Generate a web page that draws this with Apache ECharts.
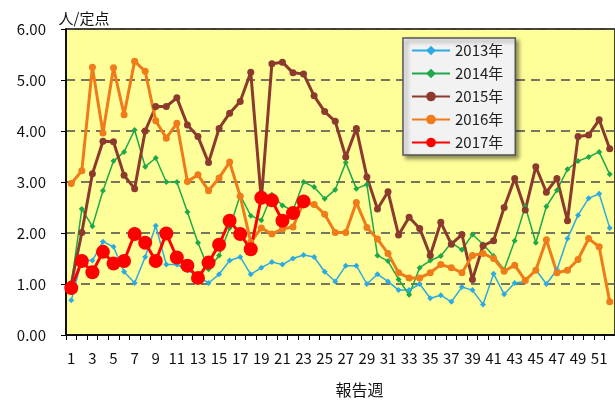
<!DOCTYPE html>
<html>
<head>
<meta charset="utf-8">
<script src="https://cdn.jsdelivr.net/npm/echarts@6/dist/echarts.min.js"></script>
<style>
  html, body { margin: 0; padding: 0; background: #fff; }
  #chart { width: 615px; height: 405px; }
</style>
</head>
<body>
<div id="chart"></div>
<script>
// ── Data ──────────────────────────────────────────────────────────────────
const WEEKS = ['1','2','3','4','5','6','7','8','9','10','11','12','13','14','15','16','17','18','19','20',
  '21','22','23','24','25','26','27','28','29','30','31','32','33','34','35','36','37','38','39','40',
  '41','42','43','44','45','46','47','48','49','50','51','52']

const Y2013 = [0.68, 1.47, 1.46, 1.83, 1.73, 1.24, 1.02, 1.53, 2.14, 1.38, 1.38, 1.27, 1.15, 1.02, 1.19, 1.46, 1.53, 1.19, 1.32, 1.43,
  1.38, 1.50, 1.57, 1.53, 1.24, 1.05, 1.36, 1.36, 1.00, 1.19, 1.05, 0.88, 0.88, 1.00, 0.72, 0.78, 0.65, 0.94, 0.88, 0.60,
  1.20, 0.80, 1.02, 1.05, 1.28, 1.00, 1.28, 1.89, 2.35, 2.68, 2.77, 2.10]
const Y2014 = [1.00, 2.47, 2.13, 2.83, 3.41, 3.59, 4.02, 3.30, 3.47, 3.00, 3.00, 2.41, 1.81, 1.29, 1.56, 2.10, 2.74, 2.34, 2.25, 2.75,
  2.54, 2.44, 3.00, 2.90, 2.67, 2.85, 3.38, 2.87, 2.95, 1.56, 1.45, 1.09, 0.79, 1.32, 1.46, 1.55, 1.81, 1.67, 1.97, 1.78,
  1.55, 1.28, 1.85, 2.52, 1.81, 2.52, 2.84, 3.25, 3.41, 3.49, 3.59, 3.15]
const Y2015 = [1.00, 2.01, 3.16, 3.80, 3.79, 3.13, 2.87, 4.00, 4.48, 4.48, 4.65, 4.12, 3.89, 3.38, 4.05, 4.35, 4.58, 5.15, 2.65, 5.32,
  5.35, 5.14, 5.12, 4.69, 4.38, 4.19, 3.49, 4.05, 3.10, 2.47, 2.81, 1.96, 2.31, 2.09, 1.56, 2.21, 1.78, 1.97, 1.09, 1.75,
  1.85, 2.50, 3.07, 2.45, 3.30, 2.80, 3.07, 2.24, 3.89, 3.92, 4.22, 3.65]
const Y2016 = [2.97, 3.22, 5.25, 3.96, 5.24, 4.32, 5.37, 5.17, 4.20, 3.86, 4.15, 3.01, 3.14, 2.83, 3.08, 3.39, 2.72, 1.82, 2.10, 1.98,
  2.08, 2.12, 2.60, 2.56, 2.37, 2.01, 2.01, 2.60, 2.11, 1.88, 1.60, 1.22, 1.12, 1.12, 1.22, 1.38, 1.32, 1.22, 1.56, 1.60,
  1.50, 1.25, 1.37, 1.07, 1.27, 1.87, 1.22, 1.27, 1.48, 1.89, 1.73, 0.65]
const Y2017 = [0.92, 1.45, 1.23, 1.63, 1.40, 1.45, 1.98, 1.81, 1.45, 1.99, 1.52, 1.36, 1.12, 1.42, 1.77, 2.24, 1.98, 1.68, 2.69, 2.64,
  2.24, 2.39, 2.62]

const FONT = '"Noto Sans CJK JP", "Noto Sans", sans-serif'

// ── Series styling ────────────────────────────────────────────────────────
function lineSeries(name, data, color, width, symbol, size) {
  return {
    name,
    type: 'line',
    data,
    symbol,
    symbolSize: size,
    showAllSymbol: true,
    lineStyle: { color, width },
    itemStyle: { color },
    emphasis: { disabled: true },
    animation: false
  }
}

const chart = echarts.init(document.getElementById('chart'))

chart.setOption({
  textStyle: { fontFamily: FONT },
  grid: {
    left: 66,
    top: 29,
    width: 558,
    height: 306,
    show: true,
    backgroundColor: '#FFFF99',
    borderColor: '#000',
    borderWidth: 1.5
  },
  legend: {
    orient: 'vertical',
    left: 403,
    top: 38,
    padding: [5, 12, 5, 8],
    itemGap: 8,
    itemWidth: 38,
    itemHeight: 12,
    backgroundColor: '#F2F2F2',
    borderColor: '#555',
    borderWidth: 1.5,
    shadowColor: 'rgba(0,0,0,0.45)',
    shadowBlur: 4,
    shadowOffsetX: 3,
    shadowOffsetY: 3,
    textStyle: { fontFamily: FONT, fontSize: 15, color: '#222' },
    data: ['2013年', '2014年', '2015年', '2016年', '2017年']
  },
  xAxis: {
    type: 'category',
    data: WEEKS,
    boundaryGap: true,
    name: '報告週',
    nameLocation: 'middle',
    nameGap: 47,
    nameTextStyle: { fontFamily: FONT, fontSize: 16, color: '#111', padding: [0, 0, 0, 38] },
    axisLine: { lineStyle: { color: '#000', width: 1.5 } },
    axisTick: { show: true, interval: 0, length: 5, lineStyle: { color: '#000' } },
    axisLabel: { interval: 1, margin: 16, fontSize: 15, color: '#111', fontFamily: FONT },
    splitLine: { show: false }
  },
  yAxis: {
    type: 'value',
    min: 0,
    max: 6,
    interval: 1,
    name: '人/定点',
    nameLocation: 'end',
    nameGap: 3,
    nameTextStyle: { fontFamily: FONT, fontSize: 15, color: '#111', align: 'center', padding: [0, 0, 0, 36] },
    axisLine: { show: true, lineStyle: { color: '#000', width: 1.5 } },
    axisTick: { show: true, length: 5, lineStyle: { color: '#000' } },
    axisLabel: { margin: 20, fontSize: 15, color: '#111', fontFamily: FONT, formatter: (v) => v.toFixed(2) },
    splitLine: { show: true, lineStyle: { color: '#4a4a4a', width: 1.5, type: [9, 6] } }
  },
  series: [
    lineSeries('2013年', Y2013, '#2DAAE1', 1.5, 'diamond', 6),
    lineSeries('2014年', Y2014, '#1FA84A', 1.5, 'diamond', 6),
    lineSeries('2015年', Y2015, '#8C3A2E', 3, 'circle', 7),
    lineSeries('2016年', Y2016, '#EF7B1A', 3, 'circle', 7),
    lineSeries('2017年', Y2017, '#FF0000', 3, 'circle', 14)
  ]
})
</script>
</body>
</html>
